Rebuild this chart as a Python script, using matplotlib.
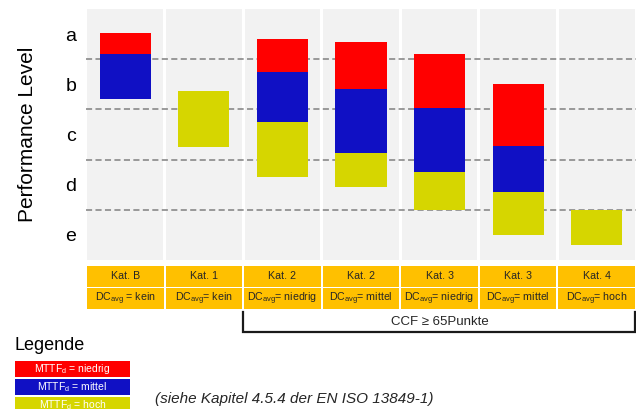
import numpy as np
import matplotlib
matplotlib.use("Agg")
from matplotlib import pyplot as plt

plt.rcParams['font.family'] = ['Liberation Sans', 'DejaVu Sans']
plt.rcParams['mathtext.fontset'] = 'custom'
plt.rcParams['mathtext.rm'] = 'Liberation Sans'

# data
categories = ['Kat. B', 'Kat. 1', 'Kat. 2', 'Kat. 2', 'Kat. 3', 'Kat. 3', 'Kat. 4']
dc_levels = ['kein', 'kein', 'niedrig', 'mittel', 'niedrig', 'mittel', 'hoch']
levels = ['a', 'b', 'c', 'd', 'e']
level_pos = [4.5, 3.5, 2.5, 1.5, 0.5]
boundaries = [1, 2, 3, 4]

# MTTFd ranges (low, high) per category, nan = not present
niedrig_low = [4.11, np.nan, 3.74, 3.40, 3.03, 2.28, np.nan]
niedrig_high = [4.52, np.nan, 4.41, 4.35, 4.11, 3.50, np.nan]
mittel_low = [3.20, np.nan, 2.75, 2.13, 1.75, 1.35, np.nan]
mittel_high = [4.11, np.nan, 3.74, 3.40, 3.03, 2.28, np.nan]
hoch_low = [np.nan, 2.26, 1.65, 1.45, 1.00, 0.50, 0.29]
hoch_high = [np.nan, 3.36, 2.75, 2.13, 1.75, 1.35, 1.00]

mttf_names = ['niedrig', 'mittel', 'hoch']
mttf_colors = ['#FF0000', '#1010C4', '#D6D600']

W, H = 642, 409
fig = plt.figure(figsize=(W / 100, H / 100), dpi=100)


def box(x0, y0, x1, y1):
    # pixel box -> figure fraction rect
    return [x0 / W, 1 - y1 / H, (x1 - x0) / W, (y1 - y0) / H]


x = np.arange(len(categories))

# main chart
ax = fig.add_axes(box(86, 9, 636, 260))
ax.bar(x, 5, bottom=0, width=0.965, color='#F2F2F2', zorder=0)
for b in boundaries:
    ax.axhline(b, color='#808080', lw=1.1, ls=(0, (4, 2.2)), zorder=1)
lows = [niedrig_low, mittel_low, hoch_low]
highs = [niedrig_high, mittel_high, hoch_high]
for lo, hi, col in zip(lows, highs, mttf_colors):
    lo = np.array(lo)
    hi = np.array(hi)
    ax.bar(x, hi - lo, bottom=lo, width=0.65, color=col, zorder=2)
ax.set_xlim(-0.5, 6.5)
ax.set_ylim(0, 5)
ax.set_xticks([])
ax.set_yticks(level_pos)
ax.set_yticklabels(levels, fontsize=14)
ax.tick_params(axis='y', length=0, pad=7)
ax.set_ylabel('Performance Level', fontsize=15, labelpad=20)
for s in ax.spines.values():
    s.set_visible(False)

# header table + CCF bracket
hx = fig.add_axes(box(86, 262, 636, 340))
hx.set_xlim(-0.5, 6.5)
hx.set_ylim(78, 0)
hx.axis('off')
hx.bar(x, 20.7, bottom=4, width=0.975, color='#FFC000')
hx.bar(x, 21, bottom=26.3, width=0.975, color='#FFC000')
for i, (cat, dc) in enumerate(zip(categories, dc_levels)):
    hx.text(i, 14.3, cat, ha='center', va='center', fontsize=7.7, color='#262626')
    eq = ' = ' if i == 0 else '= '
    hx.text(i, 37, r'DC$_{\mathregular{avg}}$' + eq + dc, ha='center', va='center',
            fontsize=7.7, color='#262626')
hx.plot([1.502, 1.502, 6.487, 6.487], [50, 70, 70, 50], color='#1A1A1A', lw=1.6,
        solid_joinstyle='miter')
hx.text(4.0, 60, 'CCF \u2265 65Punkte', ha='center', va='center', fontsize=9.5, color='#262626')

# legend
fig.text(15 / W, 1 - 345 / H, 'Legende', fontsize=13, va='center', ha='left')
lx = fig.add_axes(box(15, 361, 130, 415))
lx.set_xlim(0, 1)
lx.set_ylim(54, 0)
lx.axis('off')
for i, (name, col) in enumerate(zip(mttf_names, mttf_colors)):
    lx.bar(0.5, 16, bottom=i * 18, width=1, color=col)
    lx.text(0.5, i * 18 + 8, r'MTTF$_{\mathregular{d}}$ = ' + name, ha='center', va='center',
            fontsize=7.5, color='white')

fig.text(155 / W, 1 - 399 / H, '(siehe Kapitel 4.5.4 der EN ISO 13849-1)', fontsize=11,
         style='italic', va='center', ha='left', color='#262626')

fig.savefig('out.png', dpi=100)
